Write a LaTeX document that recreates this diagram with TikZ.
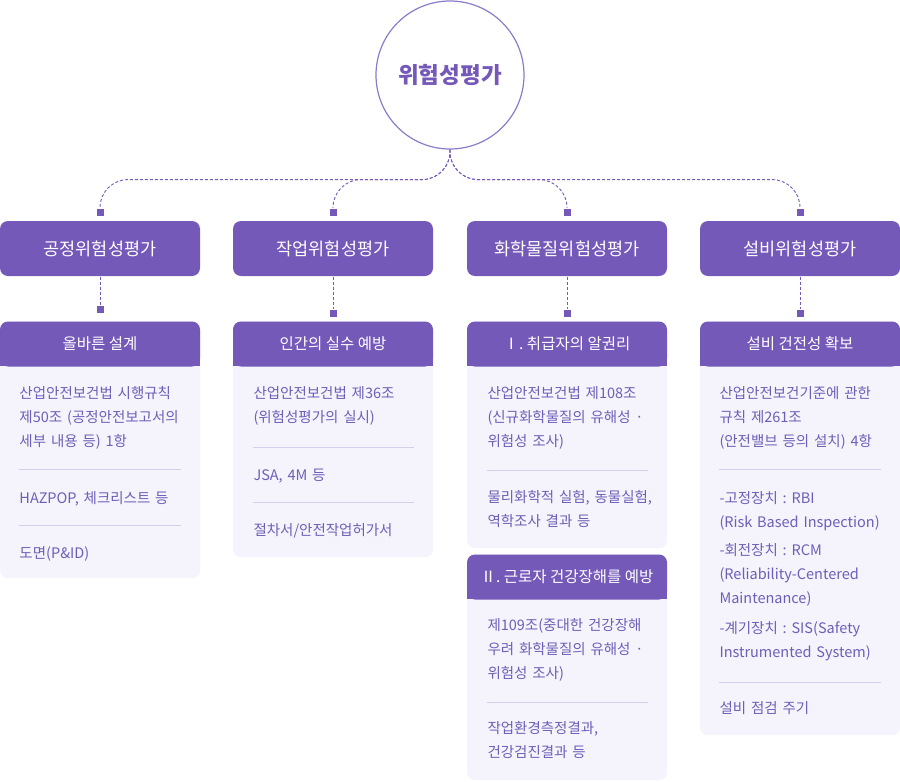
\documentclass[tikz,border=0pt]{standalone}
\usepackage{fontspec}
\newfontfamily\kr{Noto Sans CJK KR}
\usetikzlibrary{positioning, backgrounds}
\definecolor{cpurple}{HTML}{7559B9}
\definecolor{cring}{HTML}{8C7ACB}
\definecolor{ctext}{HTML}{6D5FB8}
\definecolor{cpale}{HTML}{F5F3FB}
\definecolor{crule}{HTML}{D6CFEC}
\tikzset{
  every picture/.style={font=\kr, line width=1pt},
  cat/.style={fill=cpurple, text=white, rounded corners=8pt, minimum width=200pt, minimum height=55pt, inner sep=0pt, font=\kr\fontsize{17.5}{20}\selectfont},
  card/.style={anchor=north, fill=cpale, rounded corners=8pt, minimum width=200pt, inner sep=0pt},
  head/.style={anchor=north, fill=cpurple, text=white, rounded corners=8pt, minimum width=200pt, minimum height=45pt, inner sep=0pt, font=\kr\frenchspacing\fontsize{15.5}{18}\selectfont},
  body/.style={anchor=base west, inner sep=0pt, text width=175pt, align=left, text=ctext, font=\kr\frenchspacing\fontsize{14.5}{24}\selectfont},
  joint/.style={fill=cpurple, minimum size=7pt, inner sep=0pt},
  link/.style={draw=cpurple, line width=0.9pt, dash pattern=on 3pt off 2pt, rounded corners=28pt},
  rule/.style={draw=crule, line width=0.8pt},
}

\begin{document}
\begin{tikzpicture}[x=1pt, y=-1pt]
  \useasboundingbox (0,0) rectangle (900,782);
  \node[circle, draw=cring, line width=1.2pt, minimum size=148pt, text=cpurple, font=\kr\bfseries\fontsize{22.5}{26}\selectfont] (title) at (450,75) {위험성평가};

  \node[cat] (cat1) at (100,248.5) {공정위험성평가};
  \node[cat] (cat2) at (333,248.5) {작업위험성평가};
  \node[cat] (cat3) at (567,248.5) {화학물질위험성평가};
  \node[cat] (cat4) at (800,248.5) {설비위험성평가};
  \node[joint, above=4.5pt of cat1] (m1) {};
  \node[joint, above=4.5pt of cat2] (m2) {};
  \node[joint, above=4.5pt of cat3] (m3) {};
  \node[joint, above=4.5pt of cat4] (m4) {};
  \foreach \m in {m1,m2,m3,m4} \draw[link] (title.south) -- ++(0,30) -| (\m);

  \begin{scope}[on background layer]
    \node[card, minimum height=257pt] (card1) at (100,321) {};
    \node[card, minimum height=236pt] (card2) at (333,321) {};
    \node[card, minimum height=227pt] (card3) at (567,321) {};
    \node[card, minimum height=226pt] (card5) at (567,554) {};
    \node[card, minimum height=414pt] (card4) at (800,321) {};
    \foreach \c in {card1,card2,card3,card4,card5} \fill[cpurple] ([yshift=-20pt]\c.north west) rectangle ([yshift=-45pt]\c.north east);
  \end{scope}
  \node[head] (head1) at (card1.north) {올바른 설계};
  \node[head] (head2) at (card2.north) {인간의 실수 예방};
  \node[head] (head3) at (card3.north) {Ⅰ. 취급자의 알권리};
  \node[head] (head5) at (card5.north) {Ⅱ. 근로자 건강장해를 예방};
  \node[head] (head4) at (card4.north) {설비 건전성 확보};

  \node[joint, above=8pt of card1] (n1) {};
  \node[joint, above=4pt of card2] (n2) {};
  \node[joint, above=4pt of card3] (n3) {};
  \node[joint, above=4pt of card4] (n4) {};
  \foreach \i in {1,2,3,4} \draw[link] (cat\i) -- (n\i);

  \node[body] (t11) at (19,398) {산업안전보건법 시행규칙\\제50조 (공정안전보고서의\\세부 내용 등) 1항};
  \node[body] (t12) at (19,503) {HAZPOP, 체크리스트 등};
  \node[body] (t13) at (19,558) {도면(P\&ID)};
  \draw[rule] (19,469) -- (181,469);
  \draw[rule] (19,525) -- (181,525);

  \node[body] (t21) at (253,398) {산업안전보건법 제36조\\(위험성평가의 실시)};
  \node[body] (t22) at (253,480) {JSA, 4M 등};
  \node[body] (t23) at (253,535) {절차서/안전작업허가서};
  \draw[rule] (253,447) -- (414,447);
  \draw[rule] (253,502) -- (414,502);

  \node[body] (t31) at (487,398) {산업안전보건법 제108조\\(신규화학물질의 유해성 ·\\위험성 조사)};
  \node[body] (t32) at (487,502) {물리화학적 실험, 동물실험,\\역학조사 결과 등};
  \draw[rule] (487,470) -- (648,470);
  \node[body] (t33) at (487,630) {제109조(중대한 건강장해\\우려 화학물질의 유해성 ·\\위험성 조사)};
  \node[body] (t34) at (487,733) {작업환경측정결과,\\건강검진결과 등};
  \draw[rule] (487,702) -- (648,702);

  \node[body] (t41) at (719,398) {산업안전보건기준에 관한\\규칙 제261조\\(안전밸브 등의 설치) 4항};
  \node[body] (t42) at (719,503) {-고정장치 : RBI\\(Risk Based Inspection)};
  \node[body] (t43) at (719,555) {-회전장치 : RCM\\(Reliability-Centered\\Maintenance)};
  \node[body] (t44) at (719,633) {-계기장치 : SIS(Safety\\Instrumented System)};
  \node[body] (t45) at (719,713) {설비 점검 주기};
  \draw[rule] (719,469) -- (881,469);
  \draw[rule] (719,682) -- (881,682);
\end{tikzpicture}
\end{document}
